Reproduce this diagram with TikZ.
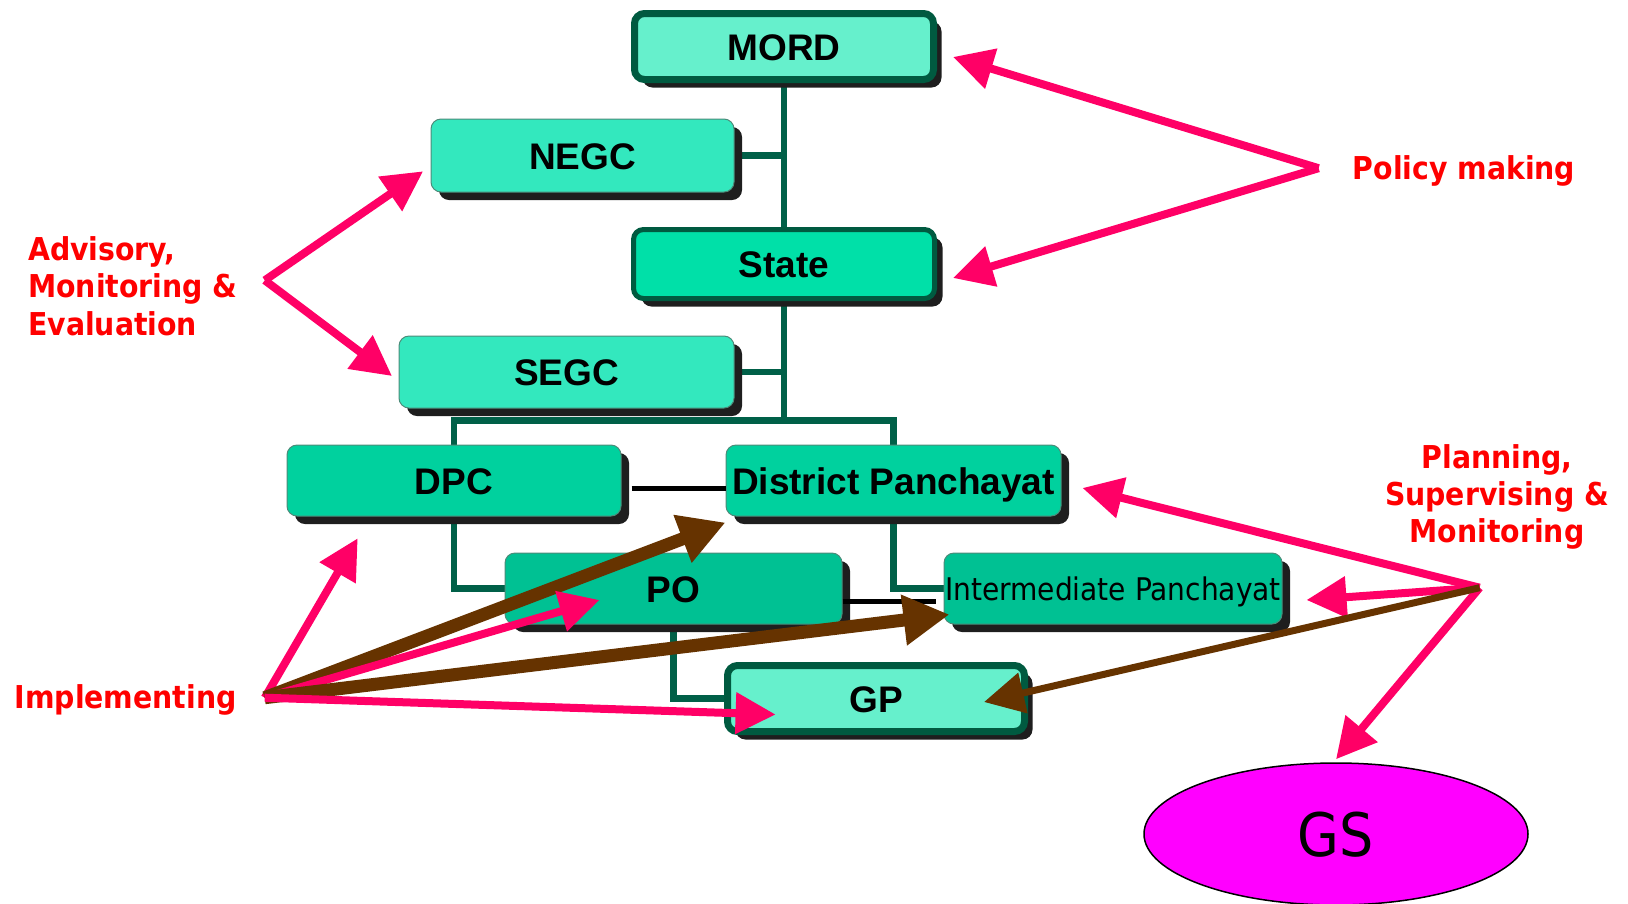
\documentclass[tikz,border=0pt]{standalone}
\usepackage{fontspec}
\setmainfont{Liberation Sans}
\newfontfamily\labfont{DejaVu Sans Condensed}
\usetikzlibrary{arrows.meta,shadows,shapes.geometric}
\definecolor{mordfill}{HTML}{66F0CC}
\definecolor{negcfill}{HTML}{33E8BE}
\definecolor{statefill}{HTML}{00E0A8}
\definecolor{dpcfill}{HTML}{00D19E}
\definecolor{pofill}{HTML}{00C193}
\definecolor{edgegreen}{HTML}{005A40}
\definecolor{treegreen}{HTML}{006048}
\definecolor{shadowc}{HTML}{1E1E1E}
\definecolor{pinkc}{HTML}{FF0066}
\definecolor{brownc}{HTML}{663300}
\definecolor{redc}{HTML}{FF0000}
\definecolor{gsfill}{HTML}{FF00FF}
\pgfdeclarelayer{background}
\pgfsetlayers{background,main}
\tikzset{
  box/.style={rectangle, rounded corners=10pt, inner sep=0pt,
    general shadow={shadow xshift=8pt, shadow yshift=-8pt, fill=shadowc, draw=none},
    text height=27pt, text depth=0pt,
    font=\fontsize{37}{40}\selectfont\bfseries},
  thinbox/.style={box, draw=edgegreen!70, line width=1pt},
  thickbox/.style={box, draw=edgegreen, line width=7pt},
  tree/.style={draw=treegreen, line width=6.5pt},
  blk/.style={draw=black, line width=5pt},
  pa/.style={draw=pinkc, line width=8pt, -{Triangle[length=40pt,width=40pt]}},
  ba/.style={draw=brownc, line width=13pt, -{Triangle[length=46pt,width=48pt]}},
  bthin/.style={draw=brownc, line width=7pt, -{Triangle[length=40pt,width=40pt]}},
  lab/.style={text=redc, font=\labfont\bfseries\fontsize{31.5}{37.4}\selectfont, inner sep=0pt},
}
\begin{document}
\begin{tikzpicture}[x=1pt,y=-1pt]
\useasboundingbox (0,0) rectangle (1628,903);
% boxes
\node[thickbox, fill=mordfill, minimum width=299pt, minimum height=66pt] (MORD) at (784,46.5) {MORD};
\node[thinbox, fill=negcfill, minimum width=303pt, minimum height=73pt] (NEGC) at (582.5,155.5) {NEGC};
\node[thickbox, line width=5pt, fill=statefill, minimum width=301pt, minimum height=69pt] (State) at (784,264) {State};
\node[thinbox, fill=negcfill, minimum width=335pt, minimum height=72pt] (SEGC) at (566.5,372) {SEGC};
\node[thinbox, fill=dpcfill, minimum width=334pt, minimum height=71pt] (DPC) at (454,480.5) {DPC};
\node[thinbox, fill=dpcfill, minimum width=335pt, minimum height=71pt] (DP) at (893.5,480.5) {District Panchayat};
\node[thinbox, fill=pofill, minimum width=337pt, minimum height=71pt] (PO) at (673.5,588.5) {PO};
\node[thinbox, fill=pofill, minimum width=338pt, minimum height=71pt, text height=23pt, font=\labfont\fontsize{31.2}{34}\selectfont] (IP) at (1113,588.5) {Intermediate Panchayat};
\node[thickbox, fill=mordfill, minimum width=297pt, minimum height=66pt] (GP) at (876,698.5) {GP};
\node[ellipse, draw=black, line width=1.5pt, fill=gsfill, minimum width=384pt, minimum height=142pt, inner sep=0pt, text height=44pt, text depth=0pt, font=\labfont\fontsize{60}{64}\selectfont] (GS) at (1336,834) {GS};
% tree connectors
\coordinate (hub) at (784,420.5);
\begin{pgfonlayer}{background}
\draw[tree] (MORD.south) -- (State.north);
\draw[tree] (NEGC.east) -- (NEGC.east -| MORD.south);
\draw[tree] (SEGC.east) -- (SEGC.east -| State.south);
\draw[tree] (State.south) -- (hub);
\draw[tree] (hub) -| (DPC.north);
\draw[tree] (hub) -| (DP.north);
\draw[tree] (DPC.south) |- (PO.west);
\draw[tree] (DP.south) |- (IP.west);
\draw[tree] (PO.south) |- (GP.west);
\end{pgfonlayer}
\draw[blk] ([xshift=10pt,yshift=-7.5pt]DPC.east) -- ([yshift=-7.5pt]DP.west);
\draw[blk] ([yshift=-12.5pt]PO.east) -- ([xshift=-8pt,yshift=-12.5pt]IP.west);
% labels
\node[lab] (polt) at (1464,171) {Policy making};
\node[lab, align=left, anchor=west] (advt) at (28,286) {Advisory,\\Monitoring \&\\Evaluation};
\node[lab, anchor=west] (impt) at (14.5,700) {Implementing};
\node[lab, align=center] (plant) at (1497,497) {Planning,\\Supervising \&\\Monitoring};
% arrow origins
\coordinate (pol) at (1318.6,168.2);
\coordinate (adv) at (264.8,280.3);
\coordinate (imp) at (264.8,697.7);
\coordinate (plan) at (1479.6,587.7);
% arrows
\draw[pa] (pol) -- ([xshift=16pt,yshift=-10.5pt]MORD.east);
\draw[pa] (pol) -- ([xshift=16pt,yshift=-14pt]State.east);
\draw[pa] (adv) -- ([xshift=-7.4pt,yshift=-15.8pt]NEGC.west);
\draw[pa] (adv) -- ([xshift=-6.5pt,yshift=-4pt]SEGC.west);
\draw[pa] (imp) -- ([xshift=71.2pt,yshift=-21.8pt]DPC.south west);
\draw[ba] (imp) -- ([yshift=-6pt]DP.south west);
\draw[pa] (imp) -- ([xshift=95pt,yshift=-11.5pt]PO.west);
\draw[ba] (imp) -- ([xshift=6pt,yshift=-26pt]IP.west);
\draw[pa] (imp) -- ([xshift=51.6pt,yshift=-16pt]GP.west);
\draw[pa] (plan) -- ([xshift=21pt,yshift=-7.5pt]DP.east);
\draw[pa] (plan) -- ([xshift=24pt,yshift=-11.5pt]IP.east);
\draw[pa] (plan) -- ([yshift=3pt]GS.north);
\draw[bthin] (plan) -- ([xshift=-44pt,yshift=-3.5pt]GP.east);
\end{tikzpicture}
\end{document}
